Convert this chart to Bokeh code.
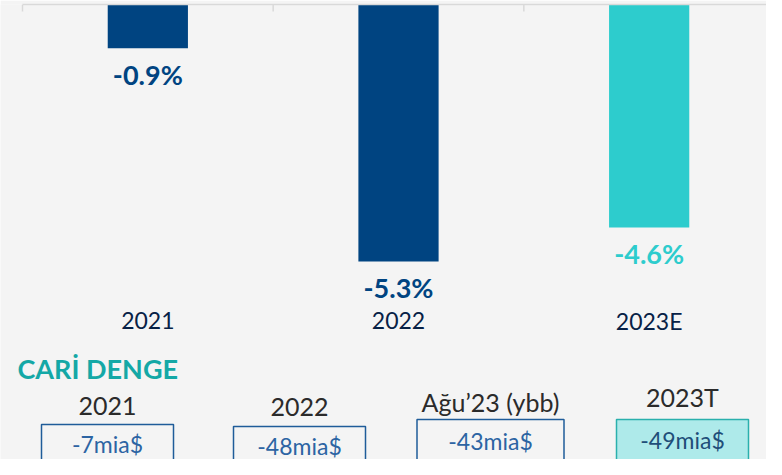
from bokeh.plotting import figure
from bokeh.models import Range1d, FixedTicker, ColumnDataSource
from bokeh.core.properties import value
from bokeh.embed import file_html
from bokeh.resources import INLINE

# ---- data ----
categories = ["2021", "2022", "2023E"]
balance_pct = [-0.9, -5.3, -4.6]
balance_labels = ["-0.9%", "-5.3%", "-4.6%"]
bar_colors = ["#004481", "#004481", "#2dcccd"]
label_colors = ["#004481", "#004481", "#2dcccd"]

table_title = "CARİ DENGE"
table_periods = ["2021", "2022", "Ağu’23 (ybb)", "2023T"]
table_values = ["-7mia$", "-48mia$", "-43mia$", "-49mia$"]

# ---- layout constants (pixels) ----
BG = "#f4f4f4"
W, H = 766, 459
TOP = 4                # figure y of the zero line
S = 48.5               # pixels per percentage point
PX_PER_CAT = 752 / len(categories)
X0 = 22                # figure x of the first category boundary
FONT = "Lato"

def xpx(px):
    return (px - X0) / PX_PER_CAT

def ypx(py):
    return -(py - TOP) / S

p = figure(frame_width=W, frame_height=H - TOP,
           x_range=Range1d(xpx(0), xpx(W)),
           y_range=Range1d(ypx(H), 0),
           x_axis_location="above", y_axis_location=None,
           output_backend="svg", toolbar_location=None,
           min_border_left=0, min_border_right=0,
           min_border_top=TOP, min_border_bottom=0)
p.background_fill_color = BG
p.border_fill_color = BG
p.outline_line_color = None
p.xgrid.visible = False
p.ygrid.visible = False

ax = p.xaxis[0]
ax.ticker = FixedTicker(ticks=[])
ax.bounds = (0, len(categories))
ax.axis_line_color = "#d9d9d9"
ax.axis_line_width = 1.5
ax.major_tick_line_color = None
ax.minor_tick_line_color = None

# category boundary ticks hanging from the zero line
bounds_x = list(range(len(categories) + 1))
p.segment(x0=bounds_x, x1=bounds_x, y0=0, y1=-7 / S, line_color="#d9d9d9", line_width=1.5)

xs = [i + 0.5 for i in range(len(categories))]
src = ColumnDataSource(dict(x=xs, v=balance_pct, c=bar_colors, lab=balance_labels,
                            lc=label_colors, cat=categories,
                            ly=[v - 26 / S for v in balance_pct]))
p.vbar(x="x", top=0, bottom="v", width=0.32, fill_color="c", line_color=None, source=src)
p.text(x="x", y="ly", text="lab", text_color="lc", text_font=value(FONT),
       text_font_style="bold", text_font_size="27px", text_align="center",
       text_baseline="middle", source=src)
p.text(x="x", y=ypx(320), text="cat", text_color="#072146", text_font=value(FONT),
       text_font_size="23px", text_align="center", text_baseline="middle", source=src)

# title of the table
p.text(x=[xpx(17)], y=[ypx(368)], text=[table_title], text_color="#14a8a6",
       text_font=value(FONT), text_font_style="bold", text_font_size="27px",
       text_align="left", text_baseline="middle")

# table boxes
box_cx = [107, 299, 490, 682]
box_w = [132, 132, 147, 132]
box_top = [424, 426, 419, 419]
lab_y = [405, 406, 401, 396]
val_y = [443, 445, 440, 439]
box_fill = [None, None, None, "#aeeaea"]
box_line = ["#1f5c99", "#1f5c99", "#1f5c99", "#2ab0ad"]
val_col = ["#2c64a3", "#2c64a3", "#2c64a3", "#1f4e79"]
tsrc = ColumnDataSource(dict(
    left=[xpx(c - w / 2) for c, w in zip(box_cx, box_w)],
    right=[xpx(c + w / 2) for c, w in zip(box_cx, box_w)],
    top=[ypx(t) for t in box_top],
    bottom=[ypx(H + 20)] * 4,
    x=[xpx(c) for c in box_cx],
    ly=[ypx(y) for y in lab_y],
    vy=[ypx(y) for y in val_y],
    fill=[f if f else BG for f in box_fill],
    line=box_line, vc=val_col,
    per=table_periods, val=table_values))
p.quad(left="left", right="right", top="top", bottom="bottom", fill_color="fill",
       line_color="line", line_width=1.5, source=tsrc)
p.text(x="x", y="ly", text="per", text_color="#2b2b2b", text_font=value(FONT),
       text_font_size="25px", text_align="center", text_baseline="middle", source=tsrc)
p.text(x="x", y="vy", text="val", text_color="vc", text_font=value(FONT),
       text_font_size="23px", text_align="center", text_baseline="middle", source=tsrc)

open("out.html", "w").write(file_html(p, INLINE))
